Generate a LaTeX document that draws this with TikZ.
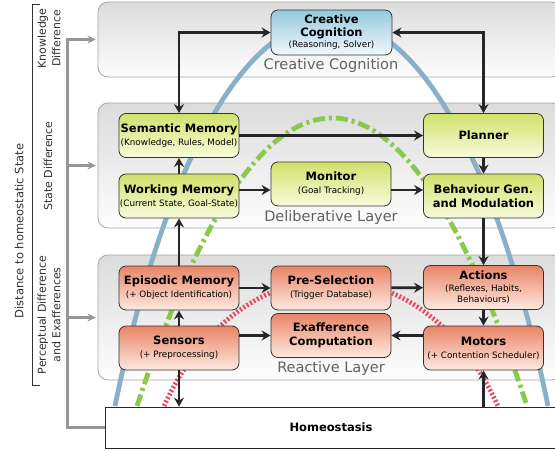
\documentclass[tikz,border=0pt]{standalone}
\usepackage{fontspec}
\setmainfont{DejaVu Sans}
\usetikzlibrary{arrows.meta}

\definecolor{gtop}{RGB}{208,225,105}
\definecolor{gbot}{RGB}{249,251,222}
\definecolor{otop}{RGB}{232,132,102}
\definecolor{obot}{RGB}{253,234,224}
\definecolor{btop}{RGB}{150,200,222}
\definecolor{bbot}{RGB}{242,249,252}
\definecolor{ptop}{RGB}{220,220,220}
\definecolor{pbot}{RGB}{253,253,253}
\definecolor{pborder}{RGB}{165,165,165}
\definecolor{bluearc}{RGB}{136,176,200}
\definecolor{greenarc}{RGB}{140,200,75}
\definecolor{redarc}{RGB}{228,78,98}
\definecolor{feedgray}{RGB}{150,150,150}

\newcommand{\detail}[1]{{\fontsize{8.8}{10.5}\selectfont\mdseries #1}}

\tikzset{
    unit/.style={draw=black!80, line width=0.8pt, rounded corners=7pt,
        minimum width=120pt, minimum height=44pt, inner sep=1pt, align=center,
        font=\fontsize{11.5}{14}\selectfont\bfseries},
    delibunit/.style={unit, top color=gtop, bottom color=gbot},
    reactunit/.style={unit, top color=otop, bottom color=obot},
    creatunit/.style={unit, top color=btop, bottom color=bbot},
    layerbox/.style={draw=pborder, line width=0.8pt, rounded corners=10pt,
        top color=ptop, bottom color=pbot, minimum width=464pt, inner sep=0pt},
    layername/.style={anchor=base, text=black!62, font=\fontsize{14.5}{16}\selectfont},
    flow/.style={line width=2.8pt, draw=black!85,
        -{Stealth[length=9pt,width=10pt,inset=3pt]}},
    feed/.style={line width=2.4pt, draw=feedgray, line cap=butt},
    sidelabel/.style={rotate=90, align=center, text=black!80,
        font=\fontsize{11}{14.5}\selectfont}
}

\begin{document}
\begin{tikzpicture}[x=1pt,y=-1pt]
    \useasboundingbox (0,0) rectangle (555,451);

    % layers
    \node[layerbox, minimum height=75pt]  (ccp)  at (330,39.5)  {};
    \node[layerbox, minimum height=125pt] (delp) at (330,165.5) {};
    \node[layerbox, minimum height=125pt] (reap) at (330,317.5) {};
    \node[layername] (ccname)    at (331,69.5)  {Creative Cognition};
    \node[layername] (delname)   at (331,221)   {Deliberative Layer};
    \node[layername] (reactname) at (331,372.5) {Reactive Layer};

    % arcs
    \draw[bluearc, line width=4.8pt] (115,406) .. controls (221,-109) and (442,-109) .. (548,406);
    \draw[greenarc, line width=4.8pt, dash pattern=on 12pt off 4pt on 3pt off 4pt]
        (137,406) .. controls (263,22) and (401,22) .. (527,406);
    \draw[redarc, line width=4.8pt, dash pattern=on 2pt off 2pt]
        (164,406) .. controls (241,238) and (421,238) .. (498,406);

    % creative cognition
    \node[creatunit, minimum width=121pt, minimum height=45pt] (cc) at (331.5,32.5)
        {Creative\\[-1pt]Cognition\\[-3pt]\detail{(Reasoning, Solver)}};

    % deliberative layer
    \node[delibunit] (sem) at (179,135.5) {Semantic Memory\\[-1pt]\detail{(Knowledge, Rules, Model)}};
    \node[delibunit] (wm)  at (179,196)   {Working Memory\\[-1pt]\detail{(Current State, Goal-State)}};
    \node[delibunit] (mon) at (331,184)   {Monitor\\[-1pt]\detail{(Goal Tracking)}};
    \node[delibunit] (plan) at (483.5,135.5) {Planner};
    \node[delibunit] (beh) at (483.5,196) {Behaviour Gen.\\and Modulation};

    % reactive layer
    \node[reactunit] (epi) at (179,288)   {Episodic Memory\\[-1pt]\detail{(+ Object Identification)}};
    \node[reactunit] (pre) at (331,288)   {Pre-Selection\\[-1pt]\detail{(Trigger Database)}};
    \node[reactunit] (act) at (483.5,287.5) {Actions\\[-2pt]\detail{(Reflexes, Habits,}\\[-3pt]\detail{Behaviours)}};
    \node[reactunit] (sen) at (179,348)   {Sensors\\[-1pt]\detail{(+ Preprocessing)}};
    \node[reactunit] (exa) at (331,335.5) {Exafference\\Computation};
    \node[reactunit] (mot) at (483.5,348) {Motors\\[-1pt]\detail{(+ Contention Scheduler)}};

    % homeostasis
    \node[draw=black!85, line width=0.8pt, fill=white, minimum width=452pt, minimum height=41pt,
        font=\fontsize{11.5}{14}\selectfont\bfseries] (homeo) at (331,427.5) {Homeostasis};

    % connections
    \draw[flow, {Stealth[length=9pt,width=10pt,inset=3pt]}-{Stealth[length=9pt,width=10pt,inset=3pt]}]
        (sem.north) |- (cc.west);
    \draw[flow, {Stealth[length=9pt,width=10pt,inset=3pt]}-{Stealth[length=9pt,width=10pt,inset=3pt]}]
        (plan.north) |- (cc.east);
    \draw[flow] (wm) -- (sem);
    \draw[flow] (epi) -- (wm);
    \draw[flow] (sen) -- (epi);
    \draw[flow] (sen) -- (sen |- homeo.north);
    \draw[flow] (mot |- homeo.north) -- (mot);
    \draw[flow] (plan) -- (beh);
    \draw[flow] (beh) -- (act);
    \draw[flow] (act) -- (mot);
    \draw[flow] (sem) -- (plan);
    \draw[flow] ([yshift=6pt]wm.east) -- ([yshift=-6pt]mon.west);
    \draw[flow] ([yshift=-6pt]mon.east) -- ([yshift=6pt]beh.west);
    \draw[flow] (epi) -- (pre);
    \draw[flow] (pre) -- (act);
    \draw[flow] (sen.east |- exa.west) -- (exa.west);
    \draw[flow] (mot.west |- exa.east) -- (exa.east);

    % distance feedback
    \draw[feed] (homeo.west) -| ([xshift=-30pt]ccp.west);
    \draw[feed, -{Stealth[length=8pt,width=8pt,inset=2.5pt]}] ([xshift=-31.2pt]ccp.west) -- ([xshift=-2pt]ccp.west);
    \draw[feed, -{Stealth[length=8pt,width=8pt,inset=2.5pt]}] ([xshift=-30pt]delp.west) -- ([xshift=-2pt]delp.west);
    \draw[feed, -{Stealth[length=8pt,width=8pt,inset=2.5pt]}] ([xshift=-30pt]reap.west) -- ([xshift=-2pt]reap.west);

    % side labels
    \draw[black!80, line width=0.8pt] (40,4) -- (32,4) -- (32,385) -- (40,385);
    \node[sidelabel, font=\fontsize{11.5}{14}\selectfont] (dist) at (19,231) {Distance to homeostatic State};
    \node[sidelabel] (know)  at (49,38.5) {Knowledge\\Difference};
    \node[sidelabel] (state) at (48,166)  {State Difference};
    \node[sidelabel] (perc)  at (49,315)  {Perceptual Difference\\and Exafferences};
\end{tikzpicture}
\end{document}
